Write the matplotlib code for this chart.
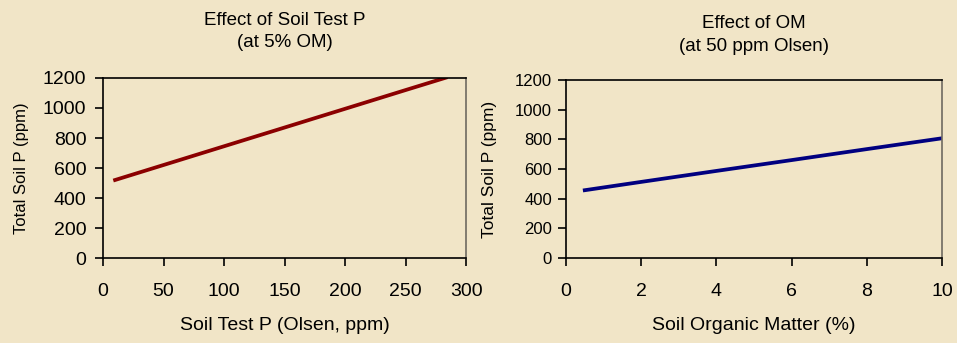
import matplotlib.pyplot as plt

plt.rcParams['font.family'] = ['Liberation Sans', 'DejaVu Sans']

bg = '#F1E5C7'

# Left panel: effect of soil test P at 5% OM
stp_olsen = [10, 50, 100, 150, 200, 250, 283]
total_p_stp = [520, 620, 745, 870, 995, 1120, 1202]

# Right panel: effect of OM at 50 ppm Olsen
om_pct = [0.5, 2, 4, 6, 8, 10]
total_p_om = [457, 513, 587, 660, 734, 807]

fig = plt.figure(figsize=(9.57, 3.43), dpi=100, facecolor=bg)
ax1 = fig.add_axes([0.1076, 0.2478, 0.3797, 0.5248])
ax2 = fig.add_axes([0.5914, 0.2478, 0.3929, 0.5190])

for ax in (ax1, ax2):
    ax.set_facecolor(bg)
    for side in ['left', 'bottom', 'top']:
        ax.spines[side].set_color('black')
    ax.spines['right'].set_color('#6f6a60')
    for s in ax.spines.values():
        s.set_linewidth(1.2)
    ax.tick_params(direction='out', length=6, width=1.2)
    ax.tick_params(axis='x', pad=12, labelsize=14)
    ax.set_ylim(0, 1200)
    ax.set_yticks(range(0, 1201, 200))

ax1.plot(stp_olsen, total_p_stp, color='#8B0000', linewidth=2.7)
ax1.set_xlim(0, 300)
ax1.set_xticks(range(0, 301, 50))
ax1.tick_params(axis='y', labelsize=14, pad=6)
ax1.set_xlabel('Soil Test P (Olsen, ppm)', fontsize=14, labelpad=12)
ax1.set_ylabel('Total Soil P (ppm)', fontsize=12, labelpad=10)
ax1.set_title('Effect of Soil Test P\n(at 5% OM)', fontsize=13.5, pad=22,
              linespacing=1.45)

ax2.plot(om_pct, total_p_om, color='#000080', linewidth=2.7)
ax2.set_xlim(0, 10)
ax2.set_xticks(range(0, 11, 2))
ax2.tick_params(axis='y', labelsize=12, pad=4)
ax2.set_xlabel('Soil Organic Matter (%)', fontsize=14, labelpad=12)
ax2.set_ylabel('Total Soil P (ppm)', fontsize=12.5, labelpad=13)
ax2.set_title('Effect of OM\n(at 50 ppm Olsen)', fontsize=13.5, pad=21,
              linespacing=1.45)

fig.savefig('out.png', dpi=100, facecolor=bg)
